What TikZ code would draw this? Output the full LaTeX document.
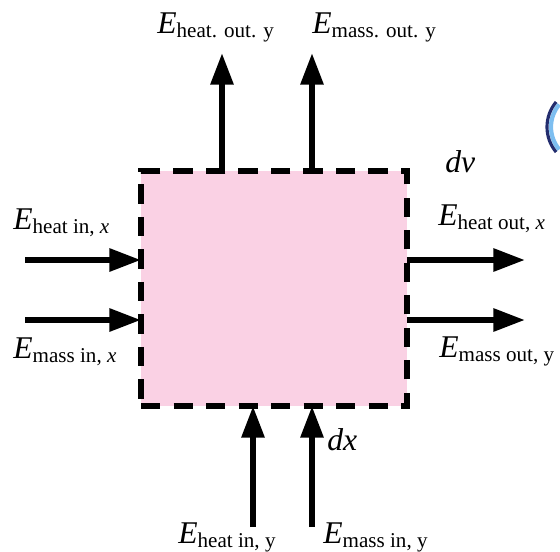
\documentclass[tikz,border=0pt]{standalone}
\usepackage{fontspec}
\setmainfont{Liberation Serif}
\usepackage{tikz}
\usetikzlibrary{arrows.meta}
\definecolor{cvpink}{RGB}{250,209,228}
\definecolor{ringdark}{RGB}{35,45,110}
\definecolor{ringlight}{RGB}{125,190,240}
\newcommand{\flux}[1]{\textit{E}\raisebox{-0.3ex}{\fontsize{12}{14}\selectfont #1}}
\tikzset{
  flow/.style={line width=3.4pt, -{Triangle[length=18pt,width=12.5pt]}},
  lbl/.style={inner sep=0pt, anchor=base west, font=\fontsize{18}{21}\selectfont},
  cvbox/.style={fill=cvpink, draw, line width=3.4pt, dash pattern=on 11pt off 7.5pt,
    minimum width=5.32cm, minimum height=4.7cm, inner sep=0pt, outer sep=0pt}
}

\begin{document}
\begin{tikzpicture}[x=0.02cm, y=-0.02cm]
  \useasboundingbox (0,0) rectangle (560,551);
  \node[cvbox] (cv) at (274,288.5) {};

  \coordinate (hout) at (222,53);
  \coordinate (mout) at (312,53);
  \coordinate (hinx) at (25,260);
  \coordinate (minx) at (25,320);
  \coordinate (houtx) at (525,260);
  \coordinate (mouty) at (525,320);
  \coordinate (hiny) at (253,527);
  \coordinate (miny) at (312,527);

  \draw[flow] (hout |- cv.north) -- (hout);
  \draw[flow] (mout |- cv.north) -- (mout);
  \draw[flow] (hinx) -- (hinx -| cv.west);
  \draw[flow] (minx) -- (minx -| cv.west);
  \draw[flow] (houtx -| cv.east) -- (houtx);
  \draw[flow] (mouty -| cv.east) -- (mouty);
  \draw[flow] (hiny) -- (hiny |- cv.south);
  \draw[flow] (miny) -- (miny |- cv.south);

  \node[lbl] (lhout) at (157,33) {\flux{heat. out. y}};
  \node[lbl] (lmout) at (312,33) {\flux{mass. out. y}};
  \node[lbl] (lhinx) at (13,229) {\flux{heat in, \textit{x}}};
  \node[lbl] (lminx) at (13,358) {\flux{mass in, \textit{x}}};
  \node[lbl] (lhoutx) at (438,225) {\flux{heat out, \textit{x}}};
  \node[lbl] (lmouty) at (439,357) {\flux{mass out, y}};
  \node[lbl] (lhiny) at (178,543) {\flux{heat in, y}};
  \node[lbl] (lminy) at (323,543) {\flux{mass in, y}};
  \node[lbl] (dv) at (445,172) {\textit{dv}};
  \node[lbl] (dx) at (327,450) {\textit{dx}};

  \draw[ringlight, line width=2.4pt] (586,127) ++(140:35) arc[start angle=140, end angle=220, radius=35];
  \draw[ringdark, line width=1.8pt] (586,127) ++(140:39) arc[start angle=140, end angle=220, radius=39];
\end{tikzpicture}
\end{document}
